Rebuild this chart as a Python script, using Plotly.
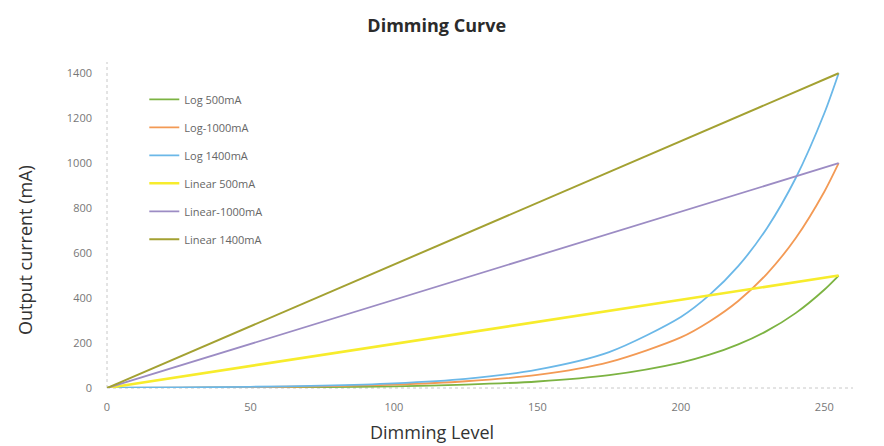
import plotly.graph_objects as go

# Dimming levels at which the log curves were sampled
log_levels = [0, 25, 50, 75, 100, 125, 150, 175, 200, 210, 220, 230, 240, 250, 255]
log_500 = [0.5, 1, 1.9, 3.8, 7.5, 15, 29, 57, 113, 148, 194, 254, 333, 437, 500]
log_1000 = [1, 2, 3.9, 7.6, 15, 30, 58, 115, 225, 296, 387, 508, 666, 873, 1000]
log_1400 = [1.4, 2.7, 5.4, 10.6, 21, 41, 82, 160, 316, 414, 542, 711, 933, 1222, 1400]

# Linear curves: straight from zero to full current
lin_levels = [0, 255]
lin_500 = [0, 500]
lin_1000 = [0, 1000]
lin_1400 = [0, 1400]

x_ticks = [0, 50, 100, 150, 200, 250]
y_ticks = [0, 200, 400, 600, 800, 1000, 1200, 1400]

series = [
    ("Log 500mA", log_levels, log_500, "#7cb342", 1.8),
    ("Log-1000mA", log_levels, log_1000, "#f39a55", 1.8),
    ("Log 1400mA", log_levels, log_1400, "#6bb8e8", 1.8),
    ("Linear 500mA", lin_levels, lin_500, "#f7ec2c", 2.6),
    ("Linear-1000mA", lin_levels, lin_1000, "#9c8cc4", 1.8),
    ("Linear 1400mA", lin_levels, lin_1400, "#a3a132", 2.0),
]

fig = go.Figure()
for i, (name, xs, ys, color, width) in enumerate(series):
    fig.add_trace(go.Scatter(
        x=xs, y=ys, mode="lines", name=name, legendgroup=f"g{i}",
        line=dict(color=color, width=width, shape="spline", smoothing=0.8),
    ))

grey_axis = "#c8c8c8"
fig.update_layout(
    width=884, height=446,
    margin=dict(l=107, r=31, t=62, b=58),
    paper_bgcolor="white", plot_bgcolor="white",
    font=dict(family="Open Sans, DejaVu Sans, sans-serif", color="#555"),
    title=dict(text="<b>Dimming Curve</b>", x=0.494, xanchor="center", y=0.942,
               yanchor="middle", font=dict(size=18, color="#2b2b2b")),
    showlegend=True,
    legend=dict(x=0.05, y=0.93, xanchor="left", yanchor="top",
                bgcolor="rgba(0,0,0,0)", font=dict(size=11, color="#666"),
                traceorder="grouped", tracegroupgap=9, itemwidth=30),
    xaxis=dict(range=[0, 260], tickvals=x_ticks, showgrid=False, zeroline=False,
               showline=False, ticks="", ticklabelstandoff=11,
               tickfont=dict(size=11, color="#777")),
    yaxis=dict(range=[0, 1450], tickvals=y_ticks, showgrid=False, zeroline=False,
               showline=False, ticks="", ticklabelstandoff=14,
               tickfont=dict(size=11, color="#777")),
)

# Axis titles placed as annotations
fig.add_annotation(text="Dimming Level", xref="paper", yref="paper",
                   x=0.4357, y=-0.135, xanchor="center", yanchor="middle",
                   showarrow=False, font=dict(size=18, color="#333"))
fig.add_annotation(text="Output current (mA)", xref="paper", yref="paper",
                   x=-0.11, y=0.423, xanchor="center", yanchor="middle",
                   textangle=-90, showarrow=False, font=dict(size=18, color="#333"))

# Light dotted axis lines along the left and bottom of the plot area
fig.add_shape(type="line", xref="paper", yref="paper", x0=0, x1=1, y0=0, y1=0,
              line=dict(color=grey_axis, width=1, dash="dot"), layer="below")
fig.add_shape(type="line", xref="paper", yref="paper", x0=0, x1=0, y0=0, y1=1,
              line=dict(color=grey_axis, width=1, dash="dot"), layer="below")

fig.write_html("out.html")
